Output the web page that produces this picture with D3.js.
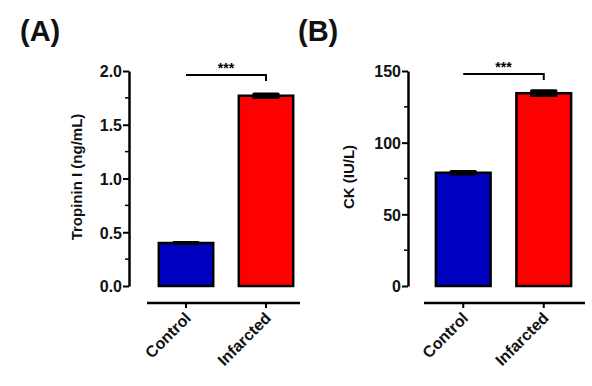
<!DOCTYPE html>
<html>
<head>
<meta charset="utf-8">
<script src="https://cdn.jsdelivr.net/npm/d3@7"></script>
<style>
  body { margin: 0; background: #fff; }
  svg { font-family: "Liberation Sans", Arial, sans-serif; font-weight: bold; }
</style>
</head>
<body>
<div id="chart"></div>
<script>
// data
var groups = ["Control", "Infarcted"];
var colors = ["#0000c0", "#ff0000"];
var tropMeans = [0.40, 1.77];
var tropSem = [0.01, 0.02];
var ckMeans = [79, 134.5];
var ckSem = [1.2, 2.0];
var tropTicks = [0, 0.5, 1.0, 1.5, 2.0];
var ckTicks = [0, 50, 100, 150];

var width = 592, height = 386;

var svg = d3.select("#chart").append("svg")
	.attr("width", width)
	.attr("height", height);

function panel(opt) {
	var g = svg.append("g");
	var y = d3.scaleLinear().domain([0, opt.max]).range([286, 71]);
	var x = d3.scaleBand().domain(groups).range([opt.x0, opt.x1]).paddingInner(0.32).paddingOuter(0.16);

	// y axis
	var yAxis = d3.axisLeft(y).tickValues(opt.ticks).tickFormat(opt.fmt).tickSize(6).tickSizeOuter(0);
	var ya = g.append("g").attr("transform", "translate(" + opt.ax + ",0)").call(yAxis);
	ya.select(".domain").attr("stroke-width", 2.5);
	ya.selectAll(".tick line").attr("stroke-width", 2);
	ya.selectAll(".tick text").attr("font-size", 16).attr("font-weight", "bold").attr("fill", "#111")
		.attr("font-family", "Liberation Sans, Arial, sans-serif").attr("x", -7).attr("dy", "0.36em");
	// minor ticks
	g.append("g").selectAll("line").data(opt.minor).enter().append("line")
		.attr("x1", opt.ax - 4).attr("x2", opt.ax)
		.attr("y1", function(d) { return y(d); }).attr("y2", function(d) { return y(d); })
		.attr("stroke", "#000").attr("stroke-width", 1.5);

	// bars
	g.selectAll("rect.bar").data(opt.means).enter().append("rect")
		.attr("class", "bar")
		.attr("x", function(d, i) { return x(groups[i]); })
		.attr("width", x.bandwidth())
		.attr("y", function(d) { return y(d); })
		.attr("height", function(d) { return y(0) - y(d); })
		.attr("fill", function(d, i) { return colors[i]; })
		.attr("stroke", "#000").attr("stroke-width", 2.5);

	// error caps
	g.selectAll("rect.err").data(opt.means).enter().append("rect")
		.attr("class", "err")
		.attr("x", function(d, i) { return x(groups[i]) + x.bandwidth() / 4; })
		.attr("width", x.bandwidth() / 2)
		.attr("y", function(d, i) { return y(d + opt.sem[i]) - 1; })
		.attr("height", function(d, i) { return y(d - opt.sem[i]) - y(d + opt.sem[i]) + 2; })
		.attr("rx", 1.5)
		.attr("fill", "#000");

	// x axis (offset below)
	var xAxis = d3.axisBottom(x).tickSize(5).tickSizeOuter(0);
	var xa = g.append("g").attr("transform", "translate(0,303)").call(xAxis);
	xa.select(".domain").attr("d", "M" + opt.xl + ",0H" + opt.xr).attr("stroke-width", 2.5);
	xa.selectAll(".tick line").attr("stroke-width", 2);
	xa.selectAll(".tick text")
		.attr("font-size", 16).attr("font-weight", "bold").attr("fill", "#111")
		.attr("font-family", "Liberation Sans, Arial, sans-serif")
		.attr("text-anchor", "end")
		.attr("dy", null).attr("y", 0)
		.attr("transform", "translate(6,16) rotate(-45)");

	// significance bracket
	var cx0 = x(groups[0]) + x.bandwidth() / 2, cx1 = x(groups[1]) + x.bandwidth() / 2;
	g.append("path")
		.attr("d", "M" + cx0 + "," + opt.by + "H" + cx1 + "V" + (opt.by + 6))
		.attr("fill", "none").attr("stroke", "#000").attr("stroke-width", 2);
	g.append("text").attr("x", (cx0 + cx1) / 2).attr("y", opt.by - 2)
		.attr("text-anchor", "middle").attr("font-size", 14).text("***");

	// axis title
	g.append("text")
		.attr("transform", "translate(" + opt.tx + ",177) rotate(-90)")
		.attr("text-anchor", "middle").attr("font-size", 15).attr("fill", "#111")
		.text(opt.title);

	// panel letter
	g.append("text").attr("x", opt.lx).attr("y", 41)
		.attr("font-size", 29).attr("fill", "#111").text(opt.letter);
}

panel({
	letter: "(A)", lx: 20,
	max: 2.0, ticks: tropTicks, minor: [0.25, 0.75, 1.25, 1.75],
	fmt: d3.format(".1f"),
	means: tropMeans, sem: tropSem,
	ax: 129, x0: 146, x1: 306, xl: 147, xr: 300,
	by: 75, tx: 82, title: "Tropinin I (ng/mL)"
});

panel({
	letter: "(B)", lx: 298,
	max: 150, ticks: ckTicks, minor: [25, 75, 125],
	fmt: d3.format("d"),
	means: ckMeans, sem: ckSem,
	ax: 408, x0: 423, x1: 584, xl: 424, xr: 585,
	by: 74, tx: 354, title: "CK (IU/L)"
});
</script>
</body>
</html>
